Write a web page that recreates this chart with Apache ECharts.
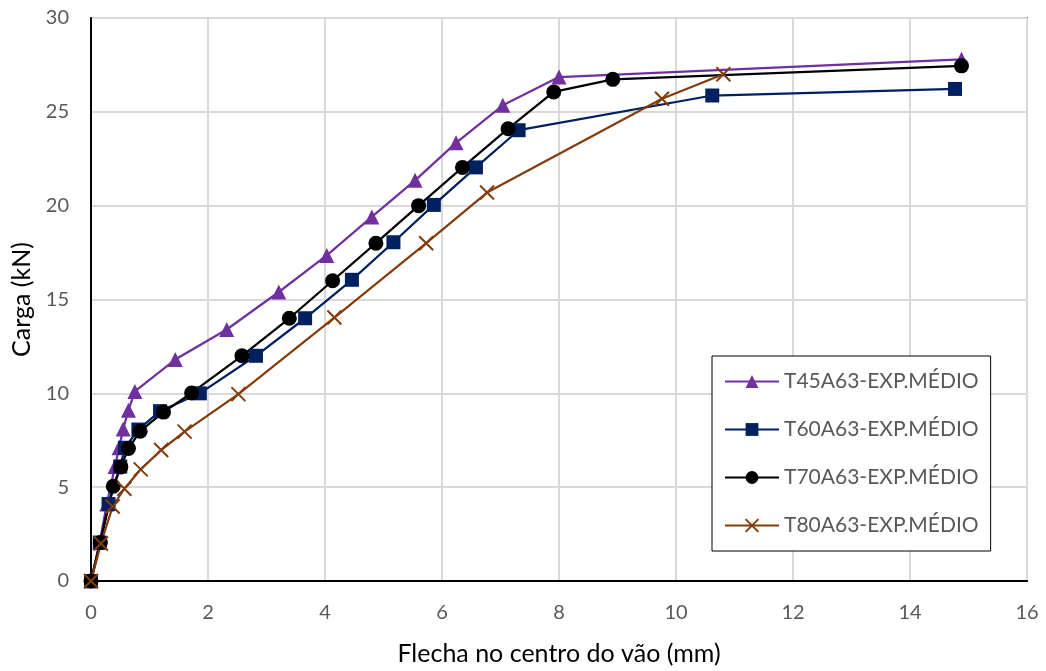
<!DOCTYPE html>
<html>
<head>
<meta charset="utf-8">
<script src="https://cdn.jsdelivr.net/npm/echarts@6/dist/echarts.min.js"></script>
<style>
  html, body { margin: 0; padding: 0; background: #fff; }
  #chart { width: 1046px; height: 671px; }
</style>
</head>
<body>
<div id="chart"></div>
<script>
// Load–deflection data: [deflection at mid-span (mm), load (kN)]
const seriesNames = [
  'T45A63-EXP.MÉDIO',
  'T60A63-EXP.MÉDIO',
  'T70A63-EXP.MÉDIO',
  'T80A63-EXP.MÉDIO'
];

const t45 = [
  [0, 0], [0.15, 2.05], [0.27, 4.1], [0.41, 6.1], [0.48, 7.1], [0.55, 8.1],
  [0.64, 9.1], [0.75, 10.1], [1.44, 11.8], [2.32, 13.4], [3.21, 15.4],
  [4.03, 17.35], [4.8, 19.4], [5.54, 21.35], [6.24, 23.35], [7.04, 25.35],
  [8.0, 26.85], [14.88, 27.8]
];

const t60 = [
  [0, 0], [0.15, 2.05], [0.3, 4.1], [0.5, 6.1], [0.58, 7.1], [0.81, 8.07],
  [1.18, 9.05], [1.86, 10.0], [2.82, 12.0], [3.66, 14.0], [4.46, 16.05],
  [5.17, 18.05], [5.86, 20.04], [6.58, 22.04], [7.31, 24.02], [10.62, 25.87],
  [14.77, 26.22]
];

const t70 = [
  [0, 0], [0.16, 2.05], [0.38, 5.05], [0.51, 6.08], [0.64, 7.06], [0.84, 7.98],
  [1.24, 9.0], [1.72, 10.02], [2.58, 12.0], [3.39, 14.0], [4.13, 16.0],
  [4.87, 18.0], [5.6, 20.0], [6.35, 22.04], [7.13, 24.1], [7.91, 26.06],
  [8.92, 26.73], [14.88, 27.45]
];

const t80 = [
  [0, 0], [0.17, 2.0], [0.37, 3.97], [0.57, 4.92], [0.85, 5.95], [1.2, 6.98],
  [1.6, 7.96], [2.52, 9.96], [4.16, 14.04], [5.73, 18.0], [6.77, 20.7],
  [9.76, 25.7], [10.81, 27.0]
];

const xTicks = { min: 0, max: 16, interval: 2 };
const yTicks = { min: 0, max: 30, interval: 5 };

const FONT = 'Lato, "Open Sans", sans-serif';
const crossPath = 'path://M0,0 L10,10 M10,0 L0,10';

function lineSeries(name, data, color, symbol, size, extra) {
  return Object.assign({
    name: name,
    type: 'line',
    data: data,
    symbol: symbol,
    symbolSize: size,
    showAllSymbol: true,
    animation: false,
    lineStyle: { color: color, width: 2.25 },
    itemStyle: { color: color }
  }, extra || {});
}

const chart = echarts.init(document.getElementById('chart'));
chart.setOption({
  backgroundColor: '#fff',
  animation: false,
  grid: {
    left: 91, top: 18, right: 19, bottom: 89,
    show: true, borderColor: '#000', borderWidth: 1.5
  },
  legend: {
    orient: 'vertical',
    left: 712, top: 356,
    padding: [15, 12, 15, 12],
    itemGap: 27,
    itemWidth: 54,
    itemHeight: 16,
    backgroundColor: '#fff',
    borderColor: '#000',
    borderWidth: 1,
    textStyle: { fontFamily: FONT, fontSize: 21, color: '#595959' },
    data: seriesNames
  },
  xAxis: {
    type: 'value',
    min: xTicks.min, max: xTicks.max, interval: xTicks.interval,
    name: 'Flecha no centro do vão (mm)',
    nameLocation: 'middle',
    nameGap: 60,
    nameTextStyle: { fontFamily: FONT, fontSize: 25, color: '#000' },
    axisLine: { show: true, lineStyle: { color: '#000', width: 2 } },
    axisTick: { show: false },
    axisLabel: { fontFamily: FONT, fontSize: 20, color: '#595959', margin: 22 },
    splitLine: { show: true, lineStyle: { color: '#d9d9d9', width: 2 } }
  },
  yAxis: {
    type: 'value',
    min: yTicks.min, max: yTicks.max, interval: yTicks.interval,
    name: 'Carga (kN)',
    nameLocation: 'middle',
    nameGap: 56,
    nameRotate: 90,
    nameTextStyle: { fontFamily: FONT, fontSize: 25, color: '#000' },
    axisLine: { show: true, lineStyle: { color: '#000', width: 2 } },
    axisTick: { show: false },
    axisLabel: { fontFamily: FONT, fontSize: 20, color: '#595959', margin: 22 },
    splitLine: { show: true, lineStyle: { color: '#d9d9d9', width: 2 } }
  },
  series: [
    lineSeries(seriesNames[0], t45, '#7030A0', 'triangle', 15),
    lineSeries(seriesNames[1], t60, '#002060', 'rect', 14),
    lineSeries(seriesNames[2], t70, '#000000', 'circle', 15),
    lineSeries(seriesNames[3], t80, '#843C0C', crossPath, 14, {
      itemStyle: { color: '#843C0C', borderColor: '#843C0C', borderWidth: 2 }
    })
  ]
});
</script>
</body>
</html>
